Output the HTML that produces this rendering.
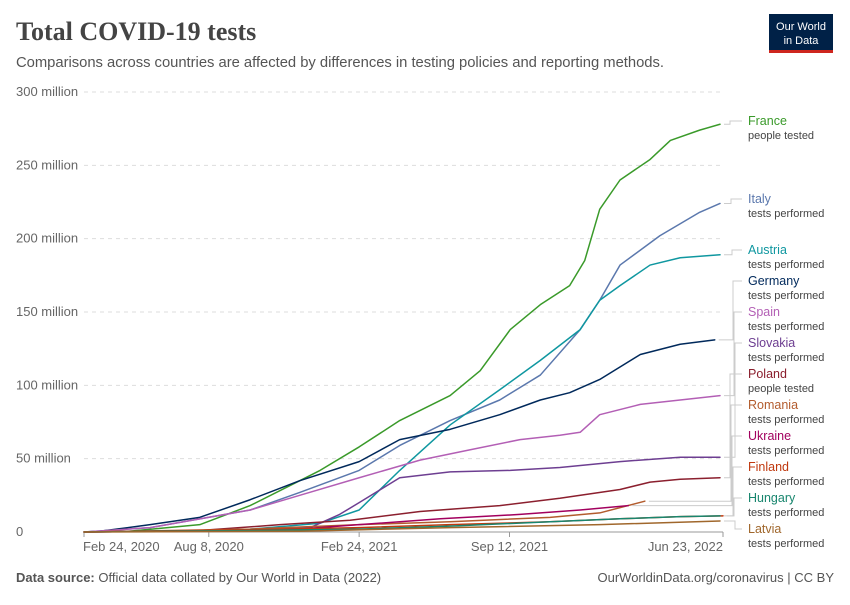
<!DOCTYPE html>
<html><head><meta charset="utf-8"><style>
body{margin:0;width:850px;height:600px;background:#fff;font-family:"Liberation Sans",sans-serif;overflow:hidden}
</style></head><body>
<svg width="850" height="600" xmlns="http://www.w3.org/2000/svg" id="chart">
<text x="16" y="40" font-family="Liberation Serif,serif" font-size="26" font-weight="bold" fill="#444">Total COVID-19 tests</text>
<text x="16" y="67" font-size="14.8" fill="#555" textLength="648">Comparisons across countries are affected by differences in testing policies and reporting methods.</text>
<g>
<rect x="769" y="14" width="64" height="36" fill="#002147"/>
<rect x="769" y="50" width="64" height="3" fill="#ce261e"/>
<text x="801" y="30" font-size="11" fill="#fff" text-anchor="middle">Our World</text>
<text x="801" y="44" font-size="11" fill="#fff" text-anchor="middle">in Data</text>
</g>
<g id="grid"></g><g id="lines"></g><g id="legend"></g>
<text x="16" y="582" font-size="13" fill="#555"><tspan font-weight="bold">Data source:</tspan> Official data collated by Our World in Data (2022)</text>
<text x="834" y="582" font-size="13" fill="#555" text-anchor="end">OurWorldinData.org/coronavirus | CC BY</text>
</svg>
<script>
const yTicks=[0,50,100,150,200,250,300];
const yTickLabels=["0","50 million","100 million","150 million","200 million","250 million","300 million"];
const xTickDays=[0,166,366,566,850];
const xTickLabels=["Feb 24, 2020","Aug 8, 2020","Feb 24, 2021","Sep 12, 2021","Jun 23, 2022"];
const names=["France","Italy","Austria","Germany","Spain","Slovakia","Poland","Romania","Ukraine","Finland","Hungary","Latvia"];
const metrics=["people tested","tests performed","tests performed","tests performed","tests performed","tests performed","people tested","tests performed","tests performed","tests performed","tests performed","tests performed"];
const colors=["#3a9a2a","#5b78ad","#0f97a0","#00295b","#b35fb5","#6d3e91","#8b1f2e","#b35c2e","#a2005e","#c0390f","#18866e","#a0672c"];
const franceDays=[0,60,154,221,287,314,366,420,487,527,567,607,646,666,686,713,753,780,819,846];
const franceVals=[0,0.5,5,18,35,42,58,76,93,110,138,155,168,185,220,240,254,267,274,278];
const italyDays=[0,88,221,287,366,420,487,553,607,660,686,713,766,819,846];
const italyVals=[0,3,15,27,42,59,76,90,107,138,158,182,202,218,224];
const austriaDays=[0,200,314,366,420,487,553,607,660,686,713,753,793,846];
const austriaVals=[0,1,6,15,42,73,97,117,138,158,168,182,187,189];
const germanyDays=[0,21,88,154,221,287,366,420,487,553,607,646,686,740,793,839];
const germanyVals=[0,0.5,5,10,22,35,48,63,70,80,90,95,104,121,128,131];
const spainDays=[0,88,221,287,366,447,513,580,633,660,686,740,793,846];
const spainVals=[0,3,15,25,37,49,56,63,66,68,80,87,90,93];
const slovakiaDays=[0,200,301,340,366,420,487,567,633,713,793,846];
const slovakiaVals=[0,1,3,12,20,37,41,42,44,48,51,51];
const polandDays=[0,154,261,354,447,553,633,713,753,793,846];
const polandVals=[0,1,5,8,14,18,23,29,34,36,37];
const romaniaDays=[0,221,366,487,620,686,746];
const romaniaVals=[0,2,5,7,10,13,21];
const ukraineDays=[0,261,366,474,580,660,724];
const ukraineVals=[0,1,5,9,12,15,18];
const finlandDays=[0,221,366,487,620,713,793,850];
const finlandVals=[0,1.5,3,5,7,9,10.5,11];
const hungaryDays=[0,221,366,487,620,713,793,846];
const hungaryVals=[0,1,2,4,7,9,10.5,11];
const latviaDays=[0,287,487,686,846];
const latviaVals=[0,0.5,3,5,7.5];
const allDays=[franceDays,italyDays,austriaDays,germanyDays,spainDays,slovakiaDays,polandDays,romaniaDays,ukraineDays,finlandDays,hungaryDays,latviaDays];
const allVals=[franceVals,italyVals,austriaVals,germanyVals,spainVals,slovakiaVals,polandVals,romaniaVals,ukraineVals,finlandVals,hungaryVals,latviaVals];
const legendY=[129,207,258,289,320,351,382,413,444,475,506,537];

const X=d=>84+d*(723-84)/850;
const Y=v=>532-v*(532-92)/300;
const NS="http://www.w3.org/2000/svg";
function mk(t,a,p){const e=document.createElementNS(NS,t);for(const k in a)e.setAttribute(k,a[k]);p.appendChild(e);return e;}
const grid=document.getElementById('grid'),lines=document.getElementById('lines'),leg=document.getElementById('legend');
yTicks.forEach((v,i)=>{
  const l=mk('line',{x1:84,x2:723,y1:Y(v),y2:Y(v),stroke:'#ddd','stroke-dasharray':v?'4,4':'none'},grid);
  
  
  const t=mk('text',{x:16,y:Y(v)+4,'font-size':13,fill:'#666'},grid);t.textContent=yTickLabels[i];
  
  
});
mk('line',{x1:84,x2:723,y1:532,y2:532,stroke:'#999'},grid);
xTickDays.forEach((d,i)=>{
  mk('line',{x1:X(d),x2:X(d),y1:532,y2:537,stroke:'#999'},grid);
  const anchor=i==0?'start':(i==xTickDays.length-1?'end':'middle');
  const t=mk('text',{x:i==0?X(d)-1:X(d),y:551,'font-size':13,fill:'#666','text-anchor':anchor},grid);t.textContent=xTickLabels[i];
  
  
});
names.forEach((n,i)=>{
  const ds=allDays[i],vs=allVals[i];
  const p=mk('polyline',{points:ds.map((d,j)=>X(d)+','+Y(vs[j])).join(' '),fill:'none',stroke:colors[i],'stroke-width':1.5,'stroke-linejoin':'round','stroke-linecap':'round'},lines);
  
  
  const ex=X(ds[ds.length-1])+4,ey=Y(vs[vs.length-1]),ly=legendY[i]-8;
  const mx=730+(i%6);
  mk('polyline',{points:`${ex},${ey} ${mx},${ey} ${mx},${ly} 742,${ly}`,fill:'none',stroke:'#ccc'},leg);
  const t=mk('text',{x:748,y:legendY[i]-4,'font-size':12.5,fill:colors[i]},leg);t.textContent=n;
  
  
  const m=mk('text',{x:748,y:legendY[i]+10,'font-size':11,fill:'#444'},leg);m.textContent=metrics[i];
  
  
});
</script>
</body></html>
